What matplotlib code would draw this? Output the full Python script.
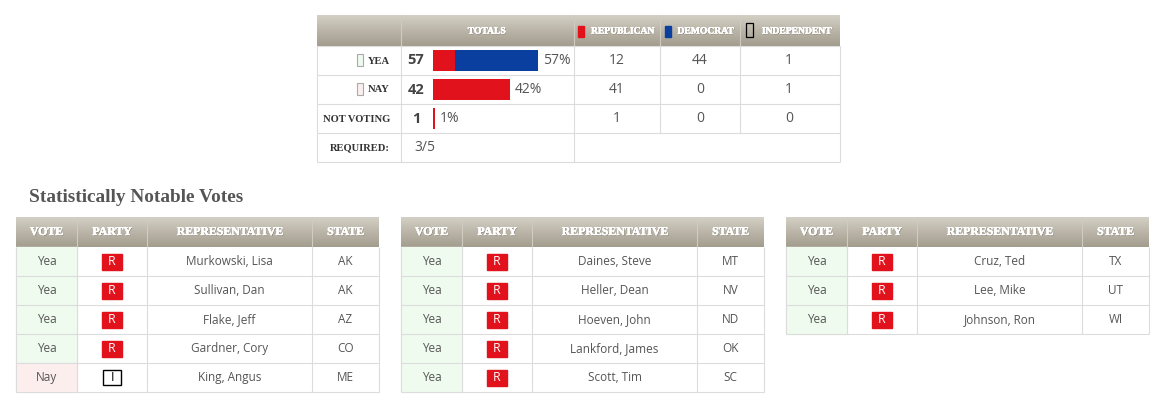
import numpy as np
import matplotlib
matplotlib.use("Agg")
import matplotlib.pyplot as plt
import matplotlib.patheffects as pe
from matplotlib.patches import Rectangle
from matplotlib.colors import LinearSegmentedColormap

# ---- data: vote totals ----
categories = ["YEA", "NAY", "NOT VOTING"]
totals = [57, 42, 1]
republican = [12, 41, 1]
democrat = [44, 0, 0]
independent = [1, 1, 0]
required = "3/5"

# ---- data: statistically notable votes ----
votes = ["Yea", "Yea", "Yea", "Yea", "Nay",
         "Yea", "Yea", "Yea", "Yea", "Yea",
         "Yea", "Yea", "Yea"]
parties = ["R", "R", "R", "R", "I",
           "R", "R", "R", "R", "R",
           "R", "R", "R"]
names = ["Murkowski, Lisa", "Sullivan, Dan", "Flake, Jeff", "Gardner, Cory", "King, Angus",
         "Daines, Steve", "Heller, Dean", "Hoeven, John", "Lankford, James", "Scott, Tim",
         "Cruz, Ted", "Lee, Mike", "Johnson, Ron"]
states = ["AK", "AK", "AZ", "CO", "ME",
          "MT", "NV", "ND", "OK", "SC",
          "TX", "UT", "WI"]
table_sizes = [5, 5, 3]
notable_headers = ["VOTE", "PARTY", "REPRESENTATIVE", "STATE"]

W, H = 1161, 419
RED = "#e2121c"
BLUE = "#0a3f9f"
GRID = "#dcdcdc"
TXT = "#555555"
SANS = "Open Sans"
SERIF = "Liberation Serif"

hdr_cmap = LinearSegmentedColormap.from_list("hdr", ["#d4d0c5", "#bab5a8", "#a39d8e"])
grad = np.linspace(0, 1, 60).reshape(-1, 1)
shadow = [pe.withSimplePatchShadow(offset=(0.5, -0.6), shadow_rgbFace="#6f6a5e", alpha=0.7),
          pe.withStroke(linewidth=0.35, foreground="white")]

fig = plt.figure(figsize=(W / 100, H / 100), dpi=100)
ax = fig.add_axes([0, 0, 1, 1])


def header(x0, x1, y0, y1):
    ax.imshow(grad, extent=(x0, x1, y1, y0), cmap=hdr_cmap, aspect="auto",
              interpolation="bilinear", zorder=1)


def hline(y, x0, x1, color=GRID):
    ax.plot([x0, x1], [y, y], color=color, lw=0.8, zorder=3, solid_capstyle="butt")


def vline(x, y0, y1, color=GRID):
    ax.plot([x, x], [y0, y1], color=color, lw=0.8, zorder=3, solid_capstyle="butt")


# ================= top totals table =================
tx0, tx1 = 317, 840
ty_head, ty_body = 15, 46
row_h = 29
cols = [401, 574, 660, 740]
header(tx0, tx1, ty_head, ty_body)
for c in cols:
    vline(c, ty_head, ty_body, color="#cfcbc0")

n_rows = len(categories) + 1
ty_end = ty_body + n_rows * row_h
for i in range(n_rows + 1):
    hline(ty_body + i * row_h, tx0, tx1)
vline(tx0, ty_body, ty_end)
vline(tx1, ty_body, ty_end)
for c in cols:
    y_stop = ty_end if c in (401, 574) else ty_end - row_h
    vline(c, ty_body, y_stop)

hdr_kw = dict(color="white", fontsize=6.9, fontweight="bold", family=SERIF,
              ha="center", va="center", zorder=5, path_effects=shadow)
ax.text(487, 31, "TOTALS", **hdr_kw)
ax.text(623, 31, "REPUBLICAN", **hdr_kw)
ax.text(706, 31, "DEMOCRAT", **hdr_kw)
ax.text(797, 31, "INDEPENDENT", **hdr_kw)
ax.add_patch(Rectangle((578, 26), 6, 11, color=RED, zorder=5))
ax.add_patch(Rectangle((665, 26), 6, 11, color=BLUE, zorder=5))
ax.add_patch(Rectangle((745.5, 23.5), 7, 14, fill=False, ec="black", lw=0.9, zorder=5))

lbl_kw = dict(color="#333333", fontsize=7.6, fontweight="bold", family=SERIF,
              ha="right", va="center", zorder=5)
box_fill = ["#effaef", "#fbeeee"]
for i, cat in enumerate(categories):
    yc = ty_body + i * row_h + row_h / 2
    ax.text(390, yc + 0.5, cat, **lbl_kw)
    if i < 2:
        ax.add_patch(Rectangle((357, yc - 6), 5.5, 12, fc=box_fill[i], ec="#aaaaaa",
                               lw=0.8, zorder=5))
    ax.text(416, yc, str(totals[i]), fontsize=10.5, fontweight="bold", color="#444444",
            family=SANS, ha="center", va="center", zorder=5)
    for val, xc in zip((republican[i], democrat[i], independent[i]), (617, 700, 789)):
        ax.text(xc, yc, str(val), fontsize=10, color=TXT, family=SANS,
                ha="center", va="center", zorder=5)
yc = ty_body + 3 * row_h + row_h / 2
ax.text(390, yc + 0.5, "REQUIRED:", **lbl_kw)
ax.text(414, yc, required, fontsize=10, color=TXT, family=SANS,
        ha="left", va="center", zorder=5)

# bars drawn on their own percentage axis
bax = fig.add_axes([433 / W, 1 - (ty_body + 3 * row_h) / H, 187 / W, 3 * row_h / H])
bax.set_xlim(0, 100)
bax.set_ylim(2.5, -0.5)
bax.axis("off")
rows = np.arange(len(categories))
rep = np.array(republican)
dem = np.array(democrat)
bax.barh(rows, rep, height=0.72, color=RED)
bax.barh(rows, dem, left=rep, height=0.72, color=BLUE)
for r, end, tot in zip(rows, rep + dem, totals):
    bax.text(end + 2.6, r, f"{tot}%", fontsize=10, color=TXT, family=SANS,
             ha="left", va="center")

# ================= notable votes tables =================
ax.text(29, 197, "Statistically Notable Votes", fontsize=13.9, fontweight="bold",
        color="#555555", family=SERIF, ha="left", va="center", zorder=5)

col_edges = [0, 61, 131, 296, 363]
nh0, nh1 = 217, 247
nrow_h = 29
offsets = [16, 401, 786]
start = 0
for t, n in enumerate(table_sizes):
    x0 = offsets[t]
    xs = [x0 + e for e in col_edges]
    header(xs[0], xs[-1], nh0, nh1)
    for x in xs[1:-1]:
        vline(x, nh0, nh1, color="#cfcbc0")
    for j, h in enumerate(notable_headers):
        ax.text((xs[j] + xs[j + 1]) / 2, 232, h, color="white", fontsize=8.5,
                fontweight="bold", family=SERIF, ha="center", va="center",
                zorder=5, path_effects=shadow)
    y_end = nh1 + n * nrow_h
    for k in range(n):
        idx = start + k
        y0 = nh1 + k * nrow_h
        yc = y0 + nrow_h / 2
        bg = "#effbef" if votes[idx] == "Yea" else "#fdeeee"
        ax.add_patch(Rectangle((xs[0], y0), xs[1] - xs[0], nrow_h, color=bg, zorder=2))
        ax.text((xs[0] + xs[1]) / 2, yc, votes[idx], fontsize=8.5, color=TXT,
                family=SANS, ha="center", va="center", zorder=5)
        pc = (xs[1] + xs[2]) / 2
        if parties[idx] == "R":
            ax.add_patch(Rectangle((pc - 10, yc - 8), 20, 16, color=RED, zorder=4))
            ax.text(pc, yc, "R", fontsize=8.8, color="white", family=SANS,
                    ha="center", va="center", zorder=5)
        else:
            ax.add_patch(Rectangle((pc - 9, yc - 7.5), 18, 15, fc="white", ec="black",
                                   lw=1, zorder=4))
            ax.text(pc, yc, parties[idx], fontsize=8.8, color="black", family=SANS,
                    ha="center", va="center", zorder=5)
        ax.text((xs[2] + xs[3]) / 2, yc, names[idx], fontsize=8.5, color=TXT,
                family=SANS, ha="center", va="center", zorder=5)
        ax.text((xs[3] + xs[4]) / 2, yc, states[idx], fontsize=8.5, color=TXT,
                family=SANS, ha="center", va="center", zorder=5)
    for k in range(1, n + 1):
        hline(nh1 + k * nrow_h, xs[0], xs[-1])
    for x in xs:
        vline(x, nh1, y_end)
    start += n

ax.set_xlim(0, W)
ax.set_ylim(H, 0)
ax.axis("off")
fig.savefig("out.png", dpi=100, facecolor="white")
